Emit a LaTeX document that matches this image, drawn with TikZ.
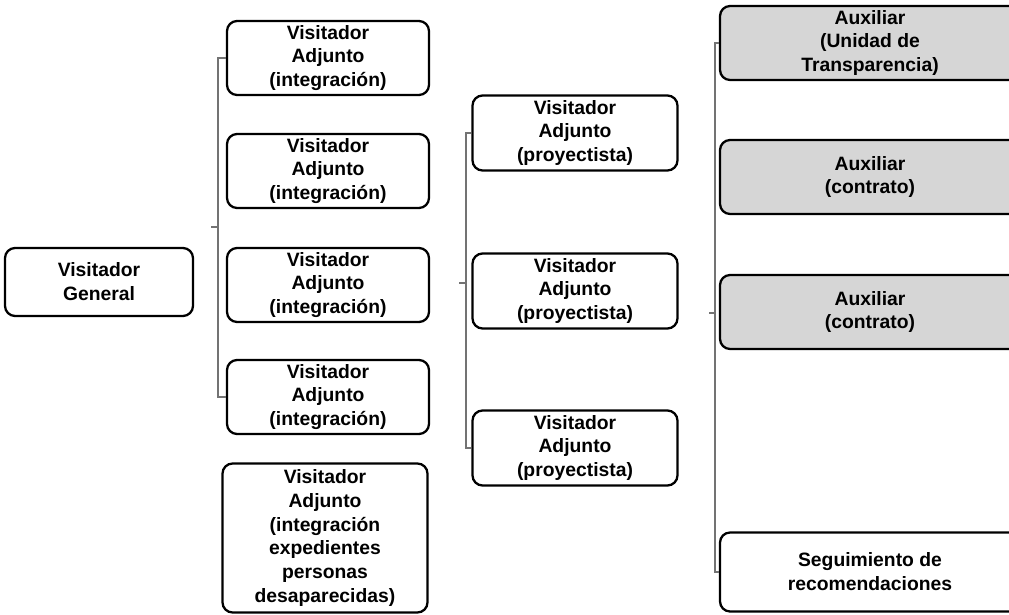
\documentclass[tikz,border=0pt]{standalone}
\usepackage{fontspec}
\setmainfont{Liberation Sans}

\begin{document}
\begin{tikzpicture}[x=0.02cm,y=-0.02cm,
		caja/.style={draw,rounded corners=0.2cm,line width=1.3pt,align=center,
			inner sep=1pt,font=\bfseries\fontsize{11}{13.6}\selectfont},
		adjunto/.style={caja,minimum width=4.04cm,minimum height=1.48cm},
		proyecto/.style={caja,minimum width=4.1cm,minimum height=1.5cm},
		aux/.style={caja,minimum width=6.0cm,minimum height=1.48cm,fill=black!16},
		liga/.style={draw=black!55,line width=0.6pt}]
	\useasboundingbox (0,0) rectangle (1009,615);
	% general
	\node[caja,minimum width=3.76cm,minimum height=1.36cm] (vg) at (99,282) {Visitador\\General};
	% adjuntos de integracion
	\node[adjunto] (a1) at (328,58) {Visitador\\Adjunto\\(integración)};
	\node[adjunto] (a2) at (328,171) {Visitador\\Adjunto\\(integración)};
	\node[adjunto] (a3) at (328,285) {Visitador\\Adjunto\\(integración)};
	\node[adjunto] (a4) at (328,397) {Visitador\\Adjunto\\(integración)};
	\node[adjunto,minimum width=4.1cm,minimum height=2.98cm] (a5) at (325,538)
		{Visitador\\Adjunto\\(integración\\expedientes\\personas\\desaparecidas)};
	% proyectistas
	\node[proyecto] (p1) at (575,133) {Visitador\\Adjunto\\(proyectista)};
	\node[proyecto] (p2) at (575,291) {Visitador\\Adjunto\\(proyectista)};
	\node[proyecto] (p3) at (575,448) {Visitador\\Adjunto\\(proyectista)};
	% auxiliares
	\node[aux] (x1) at (870,43) {Auxiliar\\(Unidad de\\Transparencia)};
	\node[aux] (x2) at (870,177) {Auxiliar\\(contrato)};
	\node[aux] (x3) at (870,312) {Auxiliar\\(contrato)};
	\node[aux,fill=none,minimum height=1.58cm] (x4) at (870,572) {Seguimiento de\\recomendaciones};
	% corchetes
	\coordinate (m2) at (218,227); \coordinate (t2) at (211,227);
	\coordinate (m3) at (466,283); \coordinate (t3) at (459,283);
	\coordinate (m4) at (715,313); \coordinate (t4) at (709,313);
	\foreach \A/\M/\B in {a1/2/a4,p1/3/p3,x1/4/x4}
	{\draw[liga] (\A.west) -| (m\M) |- (\B.west);
		\draw[liga] (t\M) -- (m\M);}
\end{tikzpicture}
\end{document}
